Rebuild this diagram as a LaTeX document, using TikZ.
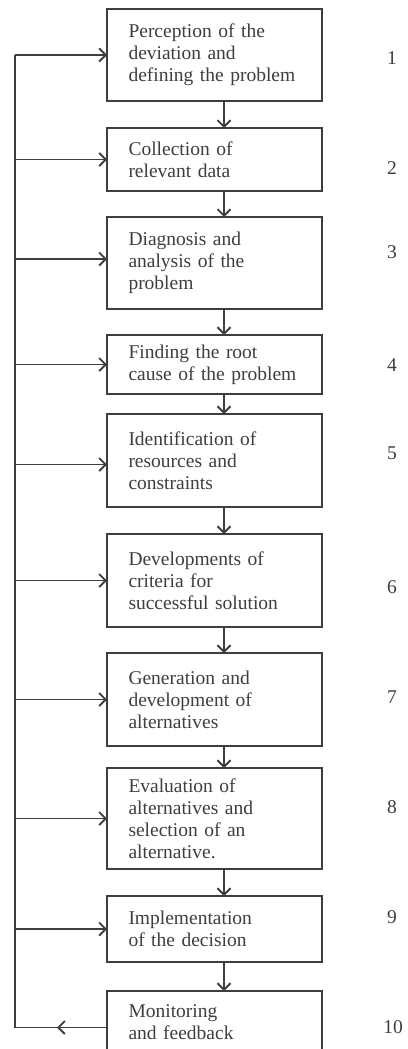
\documentclass[tikz,border=0pt]{standalone}
\usepackage{fontspec}
\setmainfont{Liberation Serif}
\usetikzlibrary{arrows.meta, positioning}
\definecolor{FlowGrey}{RGB}{62,62,62}
\hyphenpenalty=10000

\begin{document}
\begin{tikzpicture}[
  x=1pt, y=-1pt,
  stage/.style={draw=FlowGrey, line width=1.9pt, minimum width=215pt, text width=172pt,
                inner xsep=21.5pt, inner ysep=0pt, outer sep=0pt, align=left, text=FlowGrey,
                font=\fontsize{19.5}{22}\selectfont},
  num/.style={text=FlowGrey, font=\fontsize{19.5}{22}\selectfont},
  line/.style={draw=FlowGrey, line width=1.9pt},
  arr/.style={line, -{Straight Barb[length=6.5pt, width=13pt]}},
]
\useasboundingbox (0,0) rectangle (407,1049);
\clip (0,0) rectangle (407,1049);
\coordinate (ax) at (224,0);
\coordinate (fb) at (15,0);
%% Stages
\node[stage, minimum height=92pt, anchor=north] (s1) at (214.5,9)
  {Perception of the\\deviation and\\defining the problem};
\node[stage, minimum height=63pt, below=27pt of s1] (s2) {Collection of\\relevant data};
\node[stage, minimum height=92pt, below=26pt of s2] (s3) {Diagnosis and\\analysis of the\\problem};
\node[stage, minimum height=59pt, below=26pt of s3] (s4) {Finding the root\\cause of the problem};
\node[stage, minimum height=93pt, below=20pt of s4] (s5) {Identification of\\resources and\\constraints};
\node[stage, minimum height=93pt, below=27pt of s5] (s6) {Developments of\\criteria for\\successful solution};
\node[stage, minimum height=93pt, below=26pt of s6] (s7) {Generation and\\development of\\alternatives};
\node[stage, minimum height=101pt, below=22pt of s7] (s8) {Evaluation of\\alternatives and\\selection of an\\alternative.};
\node[stage, minimum height=66pt, below=27pt of s8] (s9) {Implementation\\of the decision};
\node[stage, minimum height=63pt, below=29pt of s9] (s10) {Monitoring\\and feedback};
%% Step numbers
\node[num] (n1) at (392,58) {1};
\node[num] (n2) at (392,168) {2};
\node[num] (n3) at (392,252) {3};
\node[num] (n4) at (392,365) {4};
\node[num] (n5) at (392,453) {5};
\node[num] (n6) at (392,587) {6};
\node[num] (n7) at (392,697) {7};
\node[num] (n8) at (392,807) {8};
\node[num] (n9) at (392,917) {9};
\node[num] (n10) at (393,1027) {10};
%% Forward arrows
\draw[arr] (s1.south -| ax) -- (s2.north -| ax);
\draw[arr] (s2.south -| ax) -- (s3.north -| ax);
\draw[arr] (s3.south -| ax) -- (s4.north -| ax);
\draw[arr] (s4.south -| ax) -- (s5.north -| ax);
\draw[arr] (s5.south -| ax) -- (s6.north -| ax);
\draw[arr] (s6.south -| ax) -- (s7.north -| ax);
\draw[arr] (s7.south -| ax) -- (s8.north -| ax);
\draw[arr] (s8.south -| ax) -- (s9.north -| ax);
\draw[arr] (s9.south -| ax) -- (s10.north -| ax);
%% Feedback loop
\draw[line] ([yshift=-5pt]s10.west) -- ([yshift=-5pt]s10.west -| fb) -- (s1.west -| fb);
\draw[arr] ([yshift=-5pt]s10.west) -- ++(-50,0);
\draw[arr] (s1.west -| fb) -- (s1.west);
\draw[arr] (s2.west -| fb) -- (s2.west);
\draw[arr] ([yshift=4pt]s3.west -| fb) -- ([yshift=4pt]s3.west);
\draw[arr] (s4.west -| fb) -- (s4.west);
\draw[arr] ([yshift=-4pt]s5.west -| fb) -- ([yshift=-4pt]s5.west);
\draw[arr] (s6.west -| fb) -- (s6.west);
\draw[arr] (s7.west -| fb) -- (s7.west);
\draw[arr] (s8.west -| fb) -- (s8.west);
\draw[arr] (s9.west -| fb) -- (s9.west);
\end{tikzpicture}
\end{document}
